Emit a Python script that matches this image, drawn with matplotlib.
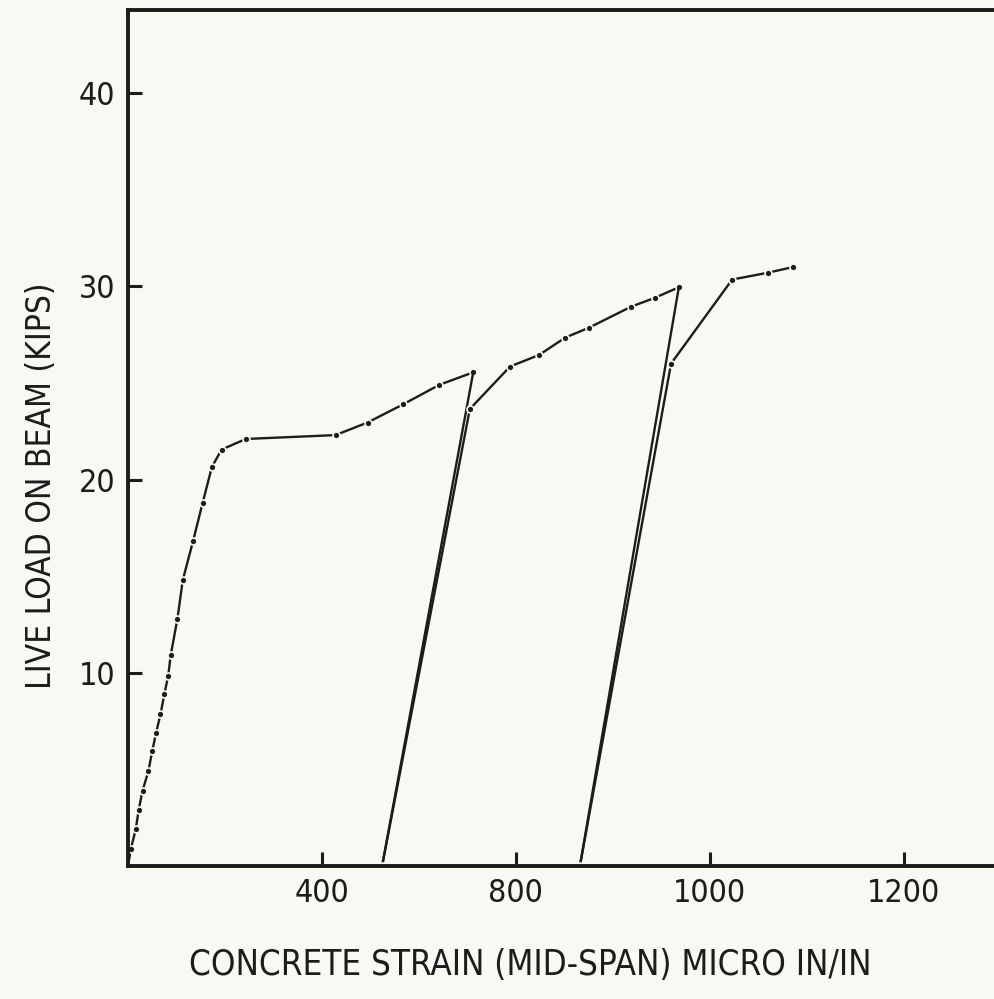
import matplotlib.pyplot as plt
import numpy as np

# first loading curve (dotted readings) then unloading to zero
load1_x = [0, 3, 8, 11, 15, 21, 25, 29, 33.5, 37.5, 41.5, 44, 51, 56.5, 67, 77,
           86.5, 96.5, 121.5, 214, 247, 284, 321, 356]
load1_y = [0, 0.9, 1.9, 2.9, 3.9, 4.9, 5.95, 6.9, 7.85, 8.9, 9.85, 10.9, 12.8,
           14.8, 16.8, 18.8, 20.65, 21.55, 22.1, 22.3, 22.95, 23.9, 24.9, 25.55]
unload1_x = [356, 262]
unload1_y = [25.55, 0]

# second cycle: reload from residual strain
load2_x = [262, 352.5, 394, 424, 451, 475, 519, 543, 568]
load2_y = [0, 23.65, 25.85, 26.45, 27.35, 27.85, 28.95, 29.4, 29.95]
unload2_x = [568, 466]
unload2_y = [29.95, 0]

# third cycle
load3_x = [466, 560, 623, 659.5, 686]
load3_y = [0, 26.0, 30.35, 30.7, 31.0]

xticks = [200, 400, 600, 800]
xtick_labels = ["400", "800", "1000", "1200"]
yticks = [10, 20, 30, 40]

ink = "#1c1c1c"
paper = "#f9f8f3"

plt.rcParams["font.family"] = ["DejaVu Sans"]
plt.rcParams["font.stretch"] = "condensed"

fig = plt.figure(figsize=(9.94, 9.99), dpi=100, facecolor=paper)
ax = fig.add_axes([128 / 994, 133 / 999, 866 / 994, 856 / 999])
ax.set_facecolor(paper)

lw = 1.7
dot = dict(marker="o", markersize=5, markerfacecolor=ink,
           markeredgecolor=paper, markeredgewidth=1.2)

ax.plot(load1_x, load1_y, color=ink, lw=lw, **dot)
ax.plot(unload1_x, unload1_y, color=ink, lw=lw)
ax.plot(load2_x, load2_y, color=ink, lw=lw, **dot)
ax.plot(unload2_x, unload2_y, color=ink, lw=lw)
ax.plot(load3_x, load3_y, color=ink, lw=lw, **dot)

ax.set_xlim(0, 893)
ax.set_ylim(0, 44.3)

ax.spines["right"].set_visible(False)
for s in ["left", "bottom", "top"]:
    ax.spines[s].set_linewidth(2.8)
    ax.spines[s].set_color(ink)

ax.set_xticks(xticks)
ax.set_xticklabels(xtick_labels)
ax.set_yticks(yticks)
ax.tick_params(direction="in", length=10, width=2.2, color=ink,
               labelsize=23, labelcolor=ink, pad=9)

# axis titles placed where they sit on the original sheet
fig.text(530 / 994, 1 - 965 / 999, "CONCRETE STRAIN (MID-SPAN) MICRO IN/IN",
         fontsize=25, color=ink, ha="center", va="center")
fig.text(42 / 994, 1 - 486 / 999, "LIVE LOAD ON BEAM (KIPS)",
         fontsize=24, color=ink, ha="center", va="center", rotation=90)

fig.savefig("out.png", dpi=100, facecolor=paper)
